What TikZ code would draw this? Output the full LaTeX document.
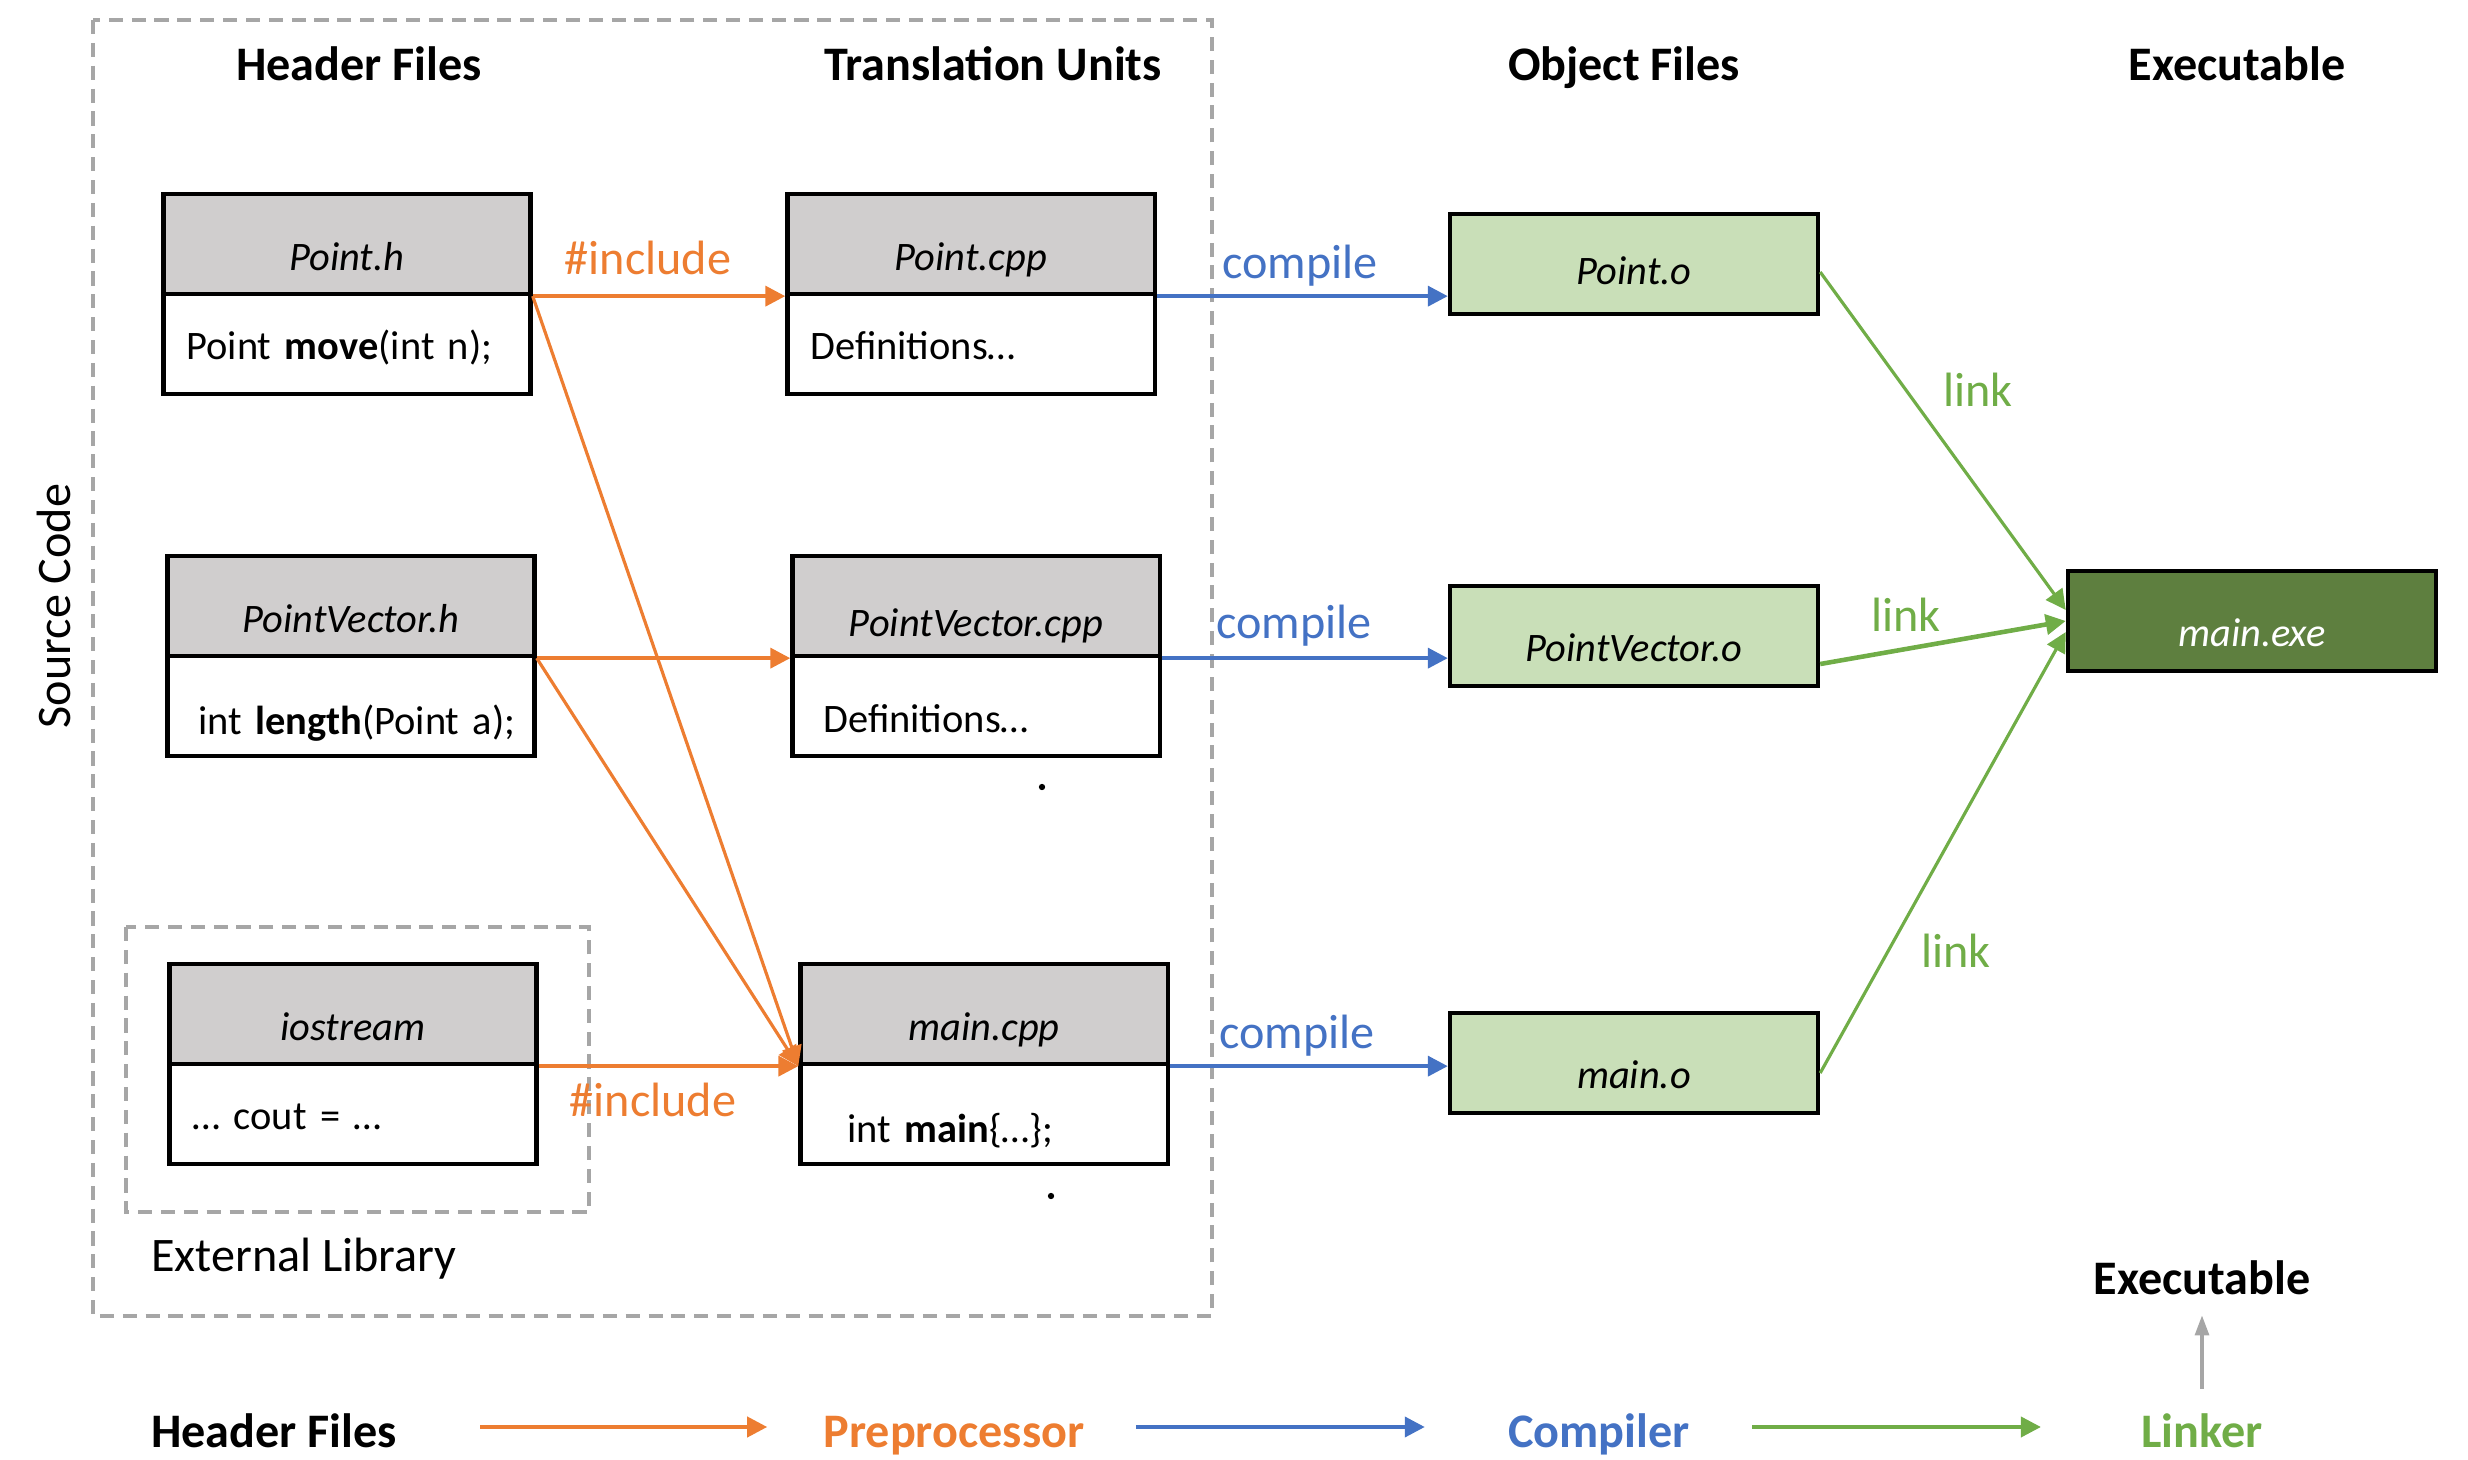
\documentclass[tikz,border=0pt]{standalone}
\usepackage{fontspec}
\setmainfont{Carlito}
\usetikzlibrary{positioning,arrows.meta}
\definecolor{inclcol}{HTML}{ED7D31}
\definecolor{compcol}{HTML}{4472C4}
\definecolor{linkcol}{HTML}{70AD47}
\definecolor{objfill}{HTML}{C9DFB8}
\definecolor{exefill}{HTML}{5E7F3F}
\definecolor{headfill}{HTML}{D0CECE}
\definecolor{dashgray}{HTML}{A6A6A6}
\tikzset{
    file head/.style = {
        draw, line width=1.2pt,
        fill = headfill,
        minimum width=3.67cm,
        minimum height=1cm,
        text height=0.52cm, text depth=0pt,
        font=\fontsize{11.5}{13}\selectfont\itshape,
        },
    file body/.style = {
        draw, line width=1.2pt,
        fill = white,
        minimum height=1cm,
        text width=3.21cm, inner xsep=0.23cm,
        align=left,
        text height=0.3cm, text depth=0pt,
        font=\fontsize{11.5}{13}\selectfont,
        },
    object file/.style = {
        draw, line width=1.2pt,
        fill = objfill,
        minimum width=3.68cm,
        minimum height=1cm,
        text height=0.5cm, text depth=0pt,
        font=\fontsize{11.5}{13}\selectfont\itshape,
        },
    exe file/.style = {
        object file,
        fill = exefill,
        text = white,
        },
    include edge/.style = {
        draw=inclcol, line width=1.1pt,
        -{Triangle[length=0.2cm,width=0.2cm]},
        },
    include diag/.style = {
        include edge, line width=0.9pt,
        },
    compile edge/.style = {
        draw=compcol, line width=1.1pt,
        -{Triangle[length=0.2cm,width=0.2cm]},
        },
    link edge/.style = {
        draw=linkcol, line width=0.9pt,
        -{Triangle[length=0.2cm,width=0.2cm]},
        },
    edge label/.style = {
        font=\fontsize{13.7}{16}\selectfont,
        },
    title/.style = {
        font=\fontsize{13.7}{16}\selectfont\bfseries,
        anchor=base,
        },
    legend/.style = {
        title,
        text height=0.4cm, text depth=0pt,
        },
    group box/.style = {
        draw=dashgray, line width=0.9pt,
        dash pattern=on 4pt off 2.5pt,
        },
}

\begin{document}
\begin{tikzpicture}[x=0.01cm, y=-0.01cm]
    \useasboundingbox (0,0) rectangle (2468,1460);

    % source code groups
    \draw[group box] (93,20) rectangle (1212,1316);
    \draw[group box] (126,927) rectangle (589,1212);
    \node[edge label, rotate=90] (src) at (54,606) {Source Code};
    \node[edge label] (extlib) at (304,1259) {External Library};

    % column titles
    \node[title] (thead) at (359,80) {Header Files};
    \node[title] (tunit) at (993,80) {Translation Units};
    \node[title] (tobj) at (1624,80) {Object Files};
    \node[title] (texe) at (2237,80) {Executable};

    % header files
    \node[file head] (ph) at (347,244) {Point.h};
    \node[file body, below=-1.2pt of ph] (phb) {Point \textbf{move}(int n);};
    \node[file head] (pvh) at (351,606) {PointVector.h};
    \node[file body, below=-1.2pt of pvh, text height=0.56cm] (pvhb) {\hspace*{0.08cm}\mbox{int \textbf{length}(Point a);}};
    \node[file head] (ios) at (353,1014) {iostream};
    \node[file body, below=-1.2pt of ios] (iosb) {… cout = …};

    % translation units
    \node[file head] (pc) at (971,244) {Point.cpp};
    \node[file body, below=-1.2pt of pc] (pcb) {Definitions…};
    \node[file head, text height=0.6cm] (pvc) at (976,606) {PointVector.cpp};
    \node[file body, below=-1.2pt of pvc, text height=0.52cm] (pvcb) {\hspace*{0.08cm}Definitions…};
    \node[file head] (mc) at (984,1014) {main.cpp};
    \node[file body, below=-1.2pt of mc, text height=0.56cm] (mcb) {\hspace*{0.24cm}int \textbf{main}\{…\};};
    \fill (1042,787) circle[radius=0.9pt];
    \fill (1051,1196) circle[radius=0.9pt];

    % object files and executable
    \node[object file, text height=0.4cm] (po) at (1634,264) {Point.o};
    \node[object file] (pvo) at (1634,636) {PointVector.o};
    \node[object file] (mo) at (1634,1063) {main.o};
    \node[exe file] (exe) at (2252,621) {main.exe};

    % preprocessor
    \path (ph.south east) edge[include edge] (pc.south west);
    \path (ph.south east) edge[include diag] (mc.south west);
    \path (pvh.south east) edge[include edge] (pvc.south west);
    \path (pvh.south east) edge[include diag] (mc.south west);
    \path (ios.south east) edge[include edge] (mc.south west);
    \node[edge label, text=inclcol] (inc1) at (648,258) {\#include};
    \node[edge label, text=inclcol] (inc2) at (653,1100) {\#include};

    % compiler
    \path (pc.south east) edge[compile edge] (pc.south east -| po.west);
    \path (pvc.south east) edge[compile edge] (pvc.south east -| pvo.west);
    \path (mc.south east) edge[compile edge] (mc.south east -| mo.west);
    \node[edge label, text=compcol] (cmp1) at (1300,266) {compile};
    \node[edge label, text=compcol] (cmp2) at (1294,626) {compile};
    \node[edge label, text=compcol] (cmp3) at (1297,1036) {compile};

    % linker
    \path ([yshift=-0.08cm]po.east) edge[link edge] ([yshift=0.11cm]exe.west);
    \path ([yshift=-0.28cm]pvo.east) edge[link edge, line width=1.3pt] (exe.west);
    \path ([yshift=-0.1cm]mo.east) edge[link edge] ([yshift=-0.11cm]exe.west);
    \node[edge label, text=linkcol] (lnk1) at (1978,390) {link};
    \node[edge label, text=linkcol] (lnk2) at (1906,615) {link};
    \node[edge label, text=linkcol] (lnk3) at (1956,951) {link};

    % legend
    \node[legend] (lhead) at (274,1447) {Header Files};
    \node[legend, text=inclcol] (lpre) at (954,1447) {Preprocessor};
    \node[legend, text=compcol] (lcomp) at (1599,1447) {Compiler};
    \node[legend, text=linkcol] (llink) at (2202,1447) {Linker};
    \node[legend] (lexe) at (2202,1294) {Executable};
    \path (lhead) edge[include edge, shorten <=0.71cm, shorten >=0.44cm] (lpre);
    \path (lpre) edge[compile edge, shorten <=0.39cm, shorten >=0.71cm] (lcomp);
    \path (lcomp) edge[link edge, line width=1.1pt, shorten <=0.5cm, shorten >=0.88cm] (llink);
    \path (llink) edge[draw=dashgray, line width=0.9pt, -{Triangle[length=0.2cm,width=0.14cm]}, shorten <=0.06cm, shorten >=0.09cm] (lexe);
\end{tikzpicture}
\end{document}
